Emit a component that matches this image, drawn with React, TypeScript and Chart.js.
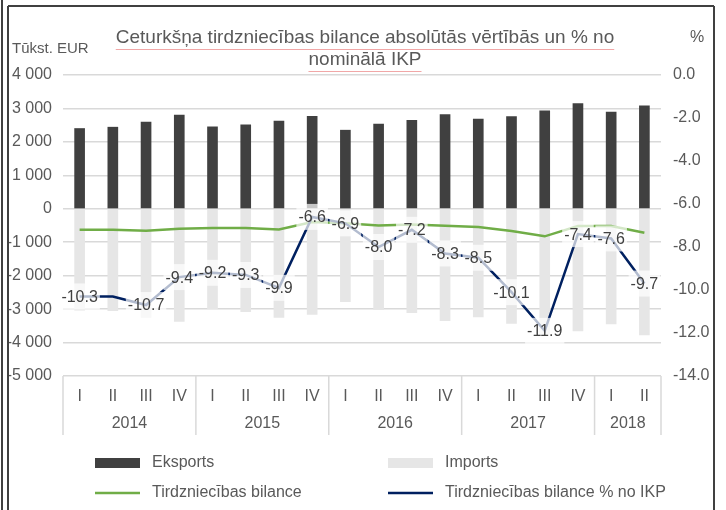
import React, { useEffect, useRef } from "react";
import { Chart, registerables } from "chart.js";
Chart.register(...registerables);

const quarters = ["I", "II", "III", "IV", "I", "II", "III", "IV", "I", "II", "III", "IV", "I", "II", "III", "IV", "I", "II"];
const years = ["2014", "2015", "2016", "2017", "2018"];
const yearSpans = [4, 4, 4, 4, 2];
const exportsData = [2400, 2440, 2590, 2800, 2450, 2510, 2620, 2765, 2350, 2530, 2645, 2815, 2685, 2755, 2925, 3145, 2895, 3075];
const importsData = [-3030, -3050, -3250, -3365, -2990, -3080, -3245, -3160, -2780, -3010, -3110, -3345, -3230, -3425, -3750, -3655, -3445, -3775];
const balanceData = [-626, -626, -655, -596, -576, -576, -616, -395, -430, -497, -467, -506, -546, -665, -824, -516, -516, -715];
const pctData = [-10.3, -10.3, -10.7, -9.4, -9.2, -9.3, -9.9, -6.6, -6.9, -8.0, -7.2, -8.3, -8.5, -10.1, -11.9, -7.4, -7.6, -9.7];
const hiddenPctLabels = [1];
const seriesNames = ["Eksports", "Imports", "Tirdzniecības bilance", "Tirdzniecības bilance % no IKP"];
const titleLines = ["Ceturkšņa tirdzniecības bilance absolūtās vērtībās un % no", "nominālā IKP"];
const leftTitle = "Tūkst. EUR";
const rightTitle = "%";

const FONT = "'Liberation Sans', Arial, sans-serif";
const TXT = "#595959";

const decorPlugin = {
  id: "decor",
  beforeDraw(chart: any) {
    const ctx = chart.ctx;
    ctx.save();
    ctx.fillStyle = "#fff";
    ctx.fillRect(0, 0, chart.width, chart.height);
    ctx.restore();
  },
  afterDraw(chart: any) {
    const ctx = chart.ctx;
    const x = chart.scales.x;
    const area = chart.chartArea;
    ctx.save();
    // frame
    ctx.strokeStyle = "#404040";
    ctx.lineWidth = 2;
    ctx.beginPath();
    ctx.moveTo(2, 0); ctx.lineTo(2, chart.height);
    ctx.moveTo(8, 6); ctx.lineTo(8, chart.height);
    ctx.moveTo(8, 6); ctx.lineTo(714, 6);
    ctx.moveTo(714, 6); ctx.lineTo(714, chart.height);
    ctx.stroke();
    // title
    ctx.fillStyle = TXT;
    ctx.font = `19px ${FONT}`;
    ctx.textAlign = "center";
    ctx.textBaseline = "middle";
    const cx = (area.left + area.right) / 2 + 3;
    ctx.fillText(titleLines[0], cx, 38);
    ctx.fillText(titleLines[1], cx, 60);
    ctx.strokeStyle = "rgba(235,130,130,0.7)";
    ctx.lineWidth = 1;
    const w0 = ctx.measureText(titleLines[0]).width;
    const w1 = ctx.measureText(titleLines[1]).width;
    ctx.beginPath();
    ctx.moveTo(cx - w0 / 2, 49.5); ctx.lineTo(cx + w0 / 2, 49.5);
    ctx.moveTo(cx - w1 / 2, 71.5); ctx.lineTo(cx + w1 / 2, 71.5);
    ctx.stroke();
    // axis titles
    ctx.fillStyle = TXT;
    ctx.font = `15px ${FONT}`;
    ctx.textAlign = "left";
    ctx.fillText(leftTitle, 12, 49);
    ctx.font = `16px ${FONT}`;
    ctx.fillText(rightTitle, 690, 38);
    // x-axis separators and years
    const step = x.getPixelForValue(1) - x.getPixelForValue(0);
    ctx.strokeStyle = "#d9d9d9";
    ctx.lineWidth = 1.5;
    let idx = 0;
    const bounds: number[] = [x.getPixelForValue(0) - step / 2];
    yearSpans.forEach((s) => {
      idx += s;
      bounds.push(x.getPixelForValue(idx - 1) + step / 2);
    });
    ctx.beginPath();
    bounds.forEach((b) => {
      ctx.moveTo(b, area.bottom);
      ctx.lineTo(b, area.bottom + 59);
    });
    ctx.stroke();
    ctx.fillStyle = TXT;
    ctx.font = `16px ${FONT}`;
    ctx.textAlign = "center";
    years.forEach((yr, i) => {
      ctx.fillText(yr, (bounds[i] + bounds[i + 1]) / 2, area.bottom + 48);
    });
    // legend
    const ds = chart.data.datasets;
    const cols = [95, 388];
    const rows = [463, 493];
    ctx.font = `16px ${FONT}`;
    ctx.textAlign = "left";
    ds.forEach((d: any, i: number) => {
      const col = cols[i % 2];
      const row = rows[Math.floor(i / 2)];
      if (d.type === "bar") {
        ctx.fillStyle = d.backgroundColor;
        ctx.fillRect(col, row - 5, 45, 10);
      } else {
        ctx.strokeStyle = d.borderColor;
        ctx.lineWidth = 2.5;
        ctx.beginPath();
        ctx.moveTo(col, row);
        ctx.lineTo(col + 45, row);
        ctx.stroke();
      }
      ctx.fillStyle = TXT;
      ctx.fillText(d.label, col + 57, row);
    });
    ctx.restore();
  },
};

const labelPlugin = {
  id: "pctLabels",
  afterDatasetsDraw(chart: any) {
    const ctx = chart.ctx;
    const meta = chart.getDatasetMeta(3);
    ctx.save();
    ctx.font = `16px ${FONT}`;
    ctx.textAlign = "center";
    ctx.textBaseline = "middle";
    meta.data.forEach((pt: any, i: number) => {
      if (hiddenPctLabels.includes(i)) return;
      const txt = pctData[i].toFixed(1);
      const w = ctx.measureText(txt).width + 4;
      const h = 26;
      ctx.fillStyle = "rgba(255,255,255,0.7)";
      ctx.fillRect(pt.x - w / 2, pt.y - h / 2, w, h);
      ctx.fillStyle = "#404040";
      ctx.fillText(txt, pt.x, pt.y + 1);
    });
    ctx.restore();
  },
};

export default function App() {
  const ref = useRef<HTMLCanvasElement>(null);
  useEffect(() => {
    if (!ref.current) return;
    const chart = new Chart(ref.current, {
      type: "bar",
      data: {
        labels: quarters,
        datasets: [
          { type: "bar", label: seriesNames[0], data: exportsData, backgroundColor: "#404040", yAxisID: "y", grouped: false, barThickness: 10, order: 2 } as any,
          { type: "bar", label: seriesNames[1], data: importsData, backgroundColor: "#e6e6e6", yAxisID: "y", grouped: false, barThickness: 10, order: 3 } as any,
          { type: "line", label: seriesNames[2], data: balanceData, borderColor: "#70ad47", borderWidth: 2.5, pointRadius: 0, yAxisID: "y", tension: 0, order: 1 } as any,
          { type: "line", label: seriesNames[3], data: pctData, borderColor: "#002060", borderWidth: 2.5, pointRadius: 0, yAxisID: "y1", tension: 0, order: 0 } as any,
        ],
      },
      options: {
        animation: false,
        responsive: false,
        layout: { padding: { top: 75, left: 0, right: 0, bottom: 0 } },
        plugins: { legend: { display: false }, tooltip: { enabled: false }, title: { display: false } },
        scales: {
          x: {
            offset: true,
            grid: { display: false },
            border: { display: false },
            ticks: { color: TXT, font: { family: FONT, size: 16 }, padding: 3, autoSkip: false, maxRotation: 0 },
            afterFit: (s: any) => { s.height = 134; },
          },
          y: {
            position: "left",
            min: -5000,
            max: 4000,
            grid: { color: "#d9d9d9", lineWidth: 1.5, drawTicks: false },
            border: { display: false },
            ticks: {
              stepSize: 1000,
              color: TXT,
              font: { family: FONT, size: 16 },
              padding: 11,
              callback: (v: any) => {
                const n = Number(v);
                const s = Math.abs(n).toString().replace(/\B(?=(\d{3})+(?!\d))/g, " ");
                return (n < 0 ? "-" : "") + s;
              },
            },
            afterFit: (s: any) => { s.width = 63; },
          },
          y1: {
            position: "right",
            min: -14,
            max: 0,
            grid: { display: false, drawTicks: false },
            border: { display: false },
            ticks: { stepSize: 2, color: TXT, font: { family: FONT, size: 16 }, padding: 12, callback: (v: any) => Number(v).toFixed(1) },
            afterFit: (s: any) => { s.width = 65; },
          },
        },
      } as any,
      plugins: [decorPlugin, labelPlugin],
    });
    return () => chart.destroy();
  }, []);
  return (
    <canvas ref={ref} width={726} height={510} style={{ position: "absolute", left: 0, top: 0, width: 726, height: 510 }} />
  );
}
